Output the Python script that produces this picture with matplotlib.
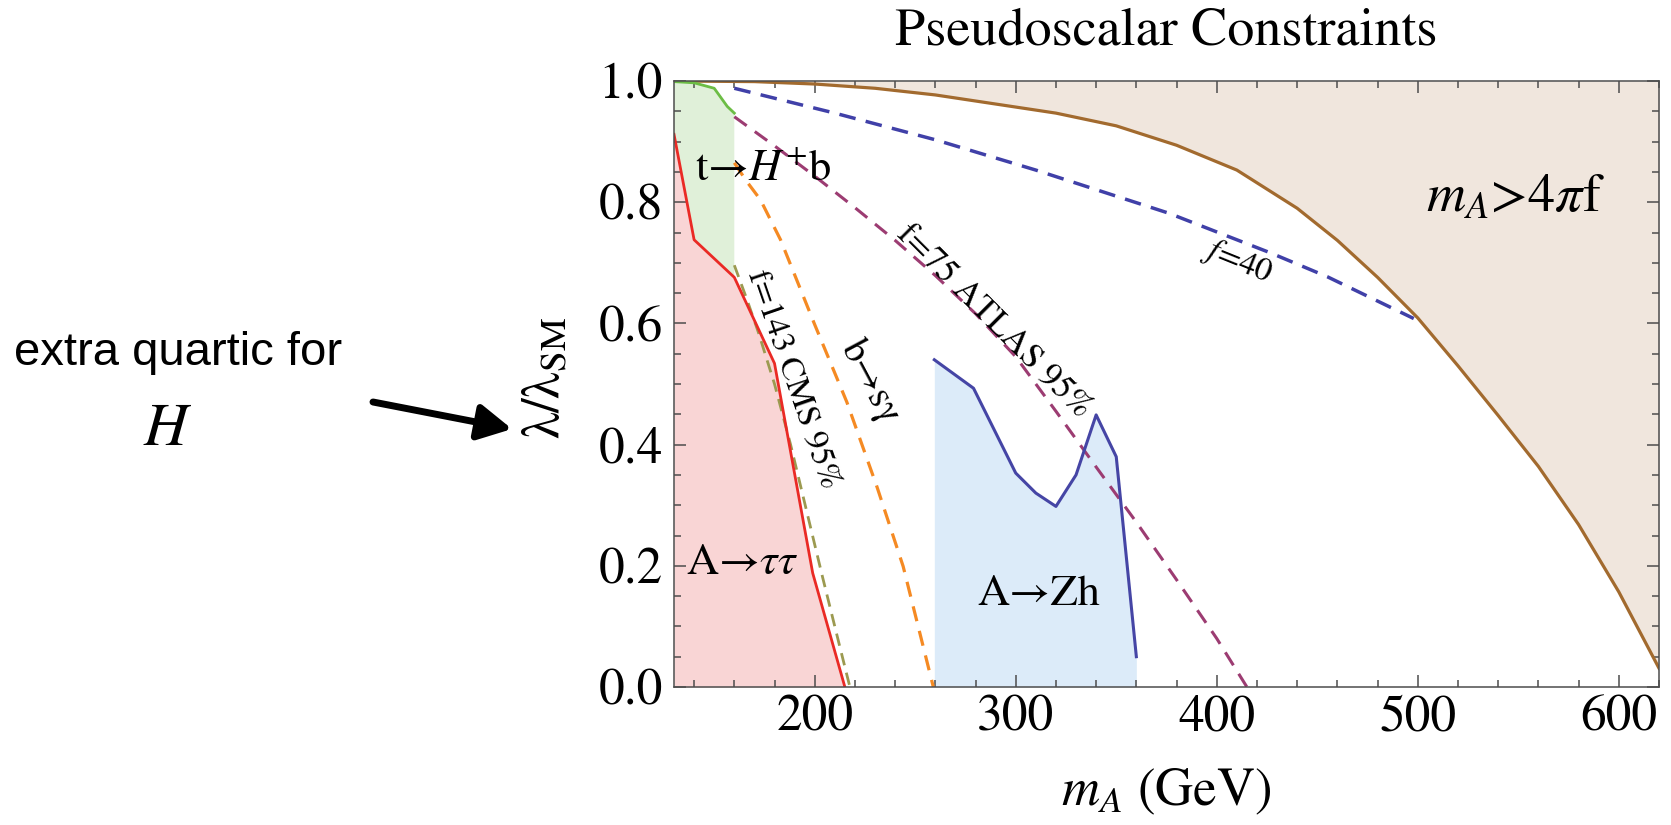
import matplotlib
matplotlib.use("Agg")
import matplotlib.pyplot as plt
from matplotlib.ticker import MultipleLocator
from matplotlib.patches import FancyArrowPatch

plt.rcParams['font.family'] = ['STIXGeneral', 'Liberation Serif', 'DejaVu Serif']
plt.rcParams['mathtext.fontset'] = 'stix'
plt.rcParams['lines.scale_dashes'] = False

# ---------------- data ----------------
x_ticks = [200, 300, 400, 500, 600]
y_ticks = [0.0, 0.2, 0.4, 0.6, 0.8, 1.0]

# m_A > 4 pi f boundary
brown_x = [130, 170, 200, 230, 260, 290, 320, 350, 380, 410, 440, 460, 480,
           500, 520, 540, 560, 580, 600, 620]
brown_y = [1.0, 0.999, 0.995, 0.988, 0.977, 0.962, 0.947, 0.926, 0.894, 0.853,
           0.790, 0.737, 0.676, 0.609, 0.530, 0.448, 0.364, 0.268, 0.157, 0.031]

# f = 40 contour
f40_x = [160, 210, 260, 310, 376, 427, 455, 498]
f40_y = [0.988, 0.947, 0.903, 0.853, 0.782, 0.716, 0.677, 0.608]

# f = 75 ATLAS 95%
f75_x = [160, 180, 200, 220, 240, 260, 280, 300, 320, 340, 360, 380, 400, 415]
f75_y = [0.941, 0.893, 0.843, 0.791, 0.737, 0.679, 0.616, 0.545, 0.455, 0.363,
         0.272, 0.177, 0.080, 0.0]

# b -> s gamma
bsg_x = [160, 166, 173, 183, 200, 216, 231, 244, 259]
bsg_y = [0.865, 0.835, 0.804, 0.738, 0.598, 0.470, 0.330, 0.199, 0.0]

# f = 143 CMS 95%
f143_x = [160, 166, 172, 180, 188, 196, 204, 212, 217.5]
f143_y = [0.696, 0.642, 0.585, 0.500, 0.400, 0.290, 0.180, 0.073, 0.0]

# A -> tau tau exclusion
tautau_x = [130, 140, 160, 180, 199, 215]
tautau_y = [0.912, 0.738, 0.676, 0.534, 0.188, 0.0]

# t -> H+ b exclusion (upper edge)
thb_x = [130, 140, 150, 156.5, 160]
thb_y = [0.999, 0.997, 0.988, 0.958, 0.947]

# A -> Zh exclusion
zh_x = [259.5, 279, 300, 310, 320, 330, 340, 350, 360]
zh_y = [0.540, 0.493, 0.353, 0.320, 0.298, 0.350, 0.449, 0.380, 0.050]

# ---------------- colours ----------------
c_brown, c_tan = '#a26a2e', '#f0e6dd'
c_f40 = '#4040a8'
c_f75 = '#9c3c72'
c_bsg = '#f58a23'
c_f143 = '#9c9a50'
c_red, c_redfill = '#ea2a25', '#f9d5d5'
c_green, c_greenfill = '#6cbd45', '#e0f0d9'
c_zh, c_zhfill = '#4545a5', '#dcebf9'
c_spine = '#4d4d4d'

fig = plt.figure(figsize=(16.71, 8.25), dpi=100)
ax = fig.add_axes([674 / 1671, 1 - 687 / 825, (1659 - 674) / 1671, (687 - 81) / 825])

# fills
ax.fill_between(brown_x, brown_y, 1.0, color=c_tan, lw=0, zorder=1)
ax.fill_between(tautau_x, 0, tautau_y, color=c_redfill, lw=0, zorder=1)
poly_x = list(thb_x) + [x for x in tautau_x if x <= 160][::-1]
poly_y = list(thb_y) + [y for x, y in zip(tautau_x, tautau_y) if x <= 160][::-1]
ax.fill(poly_x, poly_y, color=c_greenfill, lw=0, zorder=1)
ax.fill_between(zh_x, 0, zh_y, color=c_zhfill, lw=0, zorder=1)

# lines
ax.plot(brown_x, brown_y, color=c_brown, lw=2.3, zorder=3)
ax.plot(f40_x, f40_y, color=c_f40, lw=2.5, dashes=(12.0, 7.5), zorder=3)
ax.plot(f75_x, f75_y, color=c_f75, lw=2.2, dashes=(11.0, 7.2), zorder=3)
ax.plot(bsg_x, bsg_y, color=c_bsg, lw=2.3, dashes=(11.0, 7.2), zorder=3)
ax.plot(f143_x, f143_y, color=c_f143, lw=2.0, dashes=(9.0, 5.5), zorder=3)
ax.plot(tautau_x, tautau_y, color=c_red, lw=2.0, zorder=4)
ax.plot(thb_x, thb_y, color=c_green, lw=2.0, zorder=4)
ax.plot(zh_x, zh_y, color=c_zh, lw=2.2, zorder=4)

# axes styling
ax.set_xlim(130, 620)
ax.set_ylim(0, 1)
ax.set_xticks(x_ticks, labels=[str(v) for v in x_ticks])
ax.set_yticks(y_ticks, labels=[f'{v:.1f}' for v in y_ticks])
ax.xaxis.set_minor_locator(MultipleLocator(20))
ax.yaxis.set_minor_locator(MultipleLocator(0.05))
ax.tick_params(which='both', direction='in', top=True, right=True,
               color=c_spine, width=1.1)
ax.tick_params(which='major', length=8.5, labelsize=37)
ax.tick_params(which='minor', length=5)
ax.tick_params(axis='y', pad=8)
ax.tick_params(axis='x', pad=6)
for s in ax.spines.values():
    s.set_color(c_spine)
    s.set_linewidth(1.1)
    s.set_zorder(6)

ax.set_title('Pseudoscalar Constraints', fontsize=39, pad=26)
ax.set_xlabel(r'$m_A$ (GeV)', fontsize=38)
ax.xaxis.set_label_coords(0.5, -0.132)
ax.set_ylabel(r'λ/λ$_{\mathrm{SM}}$', fontsize=38)
ax.yaxis.set_label_coords(-0.104, 0.51)

# in-plot labels
ax.text(174.7, 0.853, r't→$H^{+}$b', fontsize=32, ha='center', va='center', zorder=7)
ax.text(164.0, 0.204, r'A→$\tau\tau$', fontsize=32, ha='center', va='center', zorder=7)
ax.text(311.7, 0.153, 'A→Zh', fontsize=32, ha='center', va='center', zorder=7)
ax.text(548.4, 0.805, r'$m_A$>4$\pi$f', fontsize=39, ha='center', va='center', zorder=7)
ax.text(188.8, 0.507, 'f=143 CMS 95%', fontsize=24, ha='center', va='center',
        rotation=-71, rotation_mode='anchor', zorder=7)
ax.text(227.7, 0.504, 'b→sγ', fontsize=28, ha='center', va='center',
        rotation=-62, rotation_mode='anchor', zorder=7)
ax.text(289.3, 0.604, 'f=75 ATLAS 95%', fontsize=25, ha='center', va='center',
        rotation=-45, rotation_mode='anchor', zorder=7)
ax.text(410.3, 0.702, r'$f$=40', fontsize=24, ha='center', va='center',
        rotation=-22, rotation_mode='anchor', zorder=7)

# left annotation
fig.text(178.5 / 1671, 1 - 365 / 825, 'extra quartic for', ha='center', va='baseline',
         fontsize=34, family=['Liberation Sans', 'DejaVu Sans'])
fig.text(167.5 / 1671, 1 - 445 / 825, r'$H$', ha='center', va='baseline', fontsize=44)
arrow = FancyArrowPatch((373 / 1671, 1 - 402 / 825), (512 / 1671, 1 - 429 / 825),
                        transform=fig.transFigure,
                        arrowstyle='-|>,head_length=0.45,head_width=0.24',
                        mutation_scale=45, lw=5, color='black',
                        shrinkA=0, shrinkB=0)
fig.add_artist(arrow)

fig.savefig('out.png', dpi=100)
